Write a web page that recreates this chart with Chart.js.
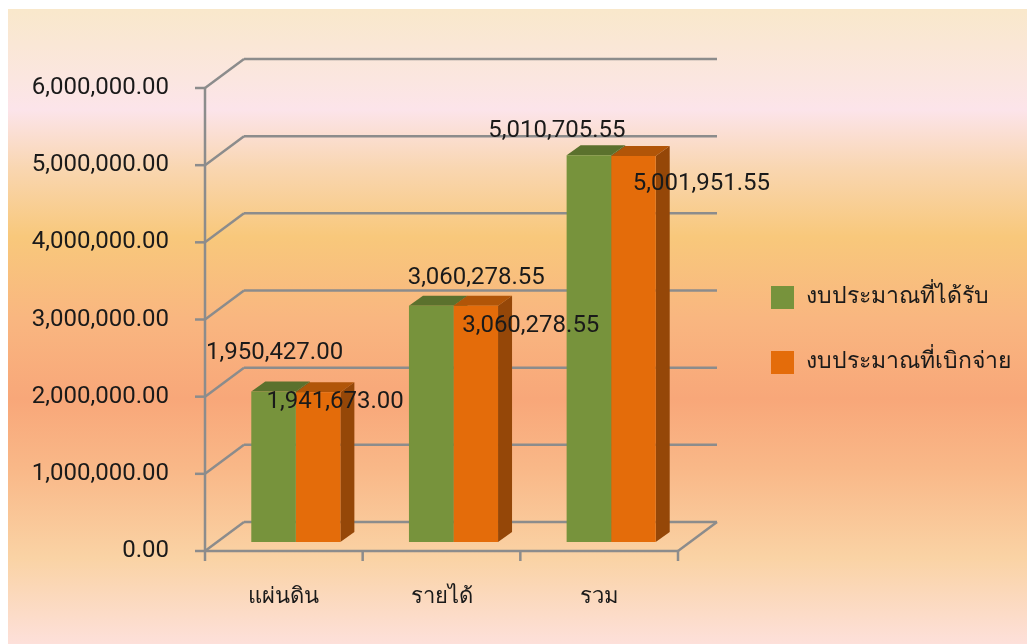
<!DOCTYPE html>
<html>
<head>
<meta charset="utf-8">
<script src="https://cdn.jsdelivr.net/npm/chart.js@4"></script>
<style>
  html, body { margin: 0; padding: 0; background: #fff; }
  #wrap {
    position: absolute; left: 8px; top: 9px; width: 1019px; height: 635px;
    background: linear-gradient(to bottom, #f9e8cb 0px, #fbe6e0 70px, #fce4ea 101px, #f9d6b0 160px,
      #f8c87b 228px, #f9b680 310px, #f8a779 390px, #f9b888 460px, #fad3a5 550px, #fde0da 635px);
  }
</style>
</head>
<body>
<div id="wrap"><canvas id="budgetChart"></canvas></div>
<script>
const categories = ['แผ่นดิน', 'รายได้', 'รวม']
const received = [1950427.0, 3060278.55, 5010705.55]
const disbursed = [1941673.0, 3060278.55, 5001951.55]
const seriesNames = ['งบประมาณที่ได้รับ', 'งบประมาณที่เบิกจ่าย']
const yTicks = [0, 1000000, 2000000, 3000000, 4000000, 5000000, 6000000]

const FONT = "Roboto, 'Noto Sans', 'DejaVu Sans', sans-serif"
const fmt = v => v.toLocaleString('en-US', { minimumFractionDigits: 2, maximumFractionDigits: 2 })

// fake 3D: wall depth, bar depth, shift of the bar plane
const wallDepth = { x: 39, y: -29 }
const barDepth = { x: 14, y: -10 }
const barShift = { x: 12, y: -9 }
// label nudges (Excel placed them by hand)
const labelNudge = [
  [[1, -38], [45, -28], [-32, -24]],
  [[17, 10], [55, 20], [68, 28]],
]
const topColors = ['#5b712d', '#b15508']
const sideColors = ['#55682a', '#954708']

// legend sits at a fixed spot, so size the gap between plot and legend from the text width
const legendPad = 42
const legendFont = 23
const mctx = document.createElement('canvas').getContext('2d')
mctx.font = legendFont + 'px ' + FONT
const legendTextW = Math.max(...seriesNames.map(s => mctx.measureText(s).width))
const legendW = legendTextW + 23 + legendFont / 2 + 10 + legendPad
const legendLeft = 763 - legendPad
const plotRight = 670

const frame3d = {
  id: 'frame3d',
  beforeDatasetsDraw(chart) {
    const { ctx, chartArea: a, scales } = chart
    const y = scales.y
    ctx.save()
    ctx.strokeStyle = '#8c8c8c'
    ctx.lineWidth = 2.5
    ctx.lineCap = 'butt'
    const line = (x1, y1, x2, y2) => {
      ctx.beginPath(); ctx.moveTo(x1, y1); ctx.lineTo(x2, y2); ctx.stroke()
    }
    yTicks.forEach(v => {
      const py = y.getPixelForValue(v)
      line(a.left - 10, py, a.left, py)
      line(a.left, py, a.left + wallDepth.x, py + wallDepth.y)
      line(a.left + wallDepth.x, py + wallDepth.y, a.right + wallDepth.x, py + wallDepth.y)
    })
    line(a.left, a.top, a.left, a.bottom)
    line(a.left, a.bottom, a.right, a.bottom)
    line(a.right, a.bottom, a.right + wallDepth.x, a.bottom + wallDepth.y)
    const catW = (a.right - a.left) / categories.length
    for (let i = 0; i <= categories.length; i++) {
      line(a.left + i * catW, a.bottom, a.left + i * catW, a.bottom + 10)
    }
    ctx.restore()

    // bars get drawn in the shifted plane, depth faces first
    ctx.save()
    ctx.translate(barShift.x, barShift.y)
    chart.data.datasets.forEach((ds, di) => {
      chart.getDatasetMeta(di).data.forEach(bar => {
        const l = bar.x - bar.width / 2
        const r = bar.x + bar.width / 2
        const t = bar.y
        const b = bar.base
        ctx.fillStyle = topColors[di]
        ctx.beginPath()
        ctx.moveTo(l, t); ctx.lineTo(r, t)
        ctx.lineTo(r + barDepth.x, t + barDepth.y); ctx.lineTo(l + barDepth.x, t + barDepth.y)
        ctx.closePath(); ctx.fill()
        ctx.fillStyle = sideColors[di]
        ctx.beginPath()
        ctx.moveTo(r, t); ctx.lineTo(r + barDepth.x, t + barDepth.y)
        ctx.lineTo(r + barDepth.x, b + barDepth.y); ctx.lineTo(r, b)
        ctx.closePath(); ctx.fill()
      })
    })
  },
  afterDatasetsDraw(chart) {
    const { ctx } = chart
    ctx.font = '24px ' + FONT
    ctx.fillStyle = '#1a1a1a'
    ctx.textAlign = 'center'
    ctx.textBaseline = 'middle'
    chart.data.datasets.forEach((ds, di) => {
      chart.getDatasetMeta(di).data.forEach((bar, i) => {
        const [dx, dy] = labelNudge[di][i]
        ctx.fillText(fmt(ds.data[i]), bar.x + dx, bar.y + dy)
      })
    })
    ctx.restore()
  },
}

new Chart(document.getElementById('budgetChart'), {
  type: 'bar',
  data: {
    labels: categories,
    datasets: [
      { label: seriesNames[0], data: received, backgroundColor: '#77933c' },
      { label: seriesNames[1], data: disbursed, backgroundColor: '#e46c0a' },
    ],
  },
  options: {
    responsive: true,
    maintainAspectRatio: false,
    animation: false,
    categoryPercentage: 0.565,
    barPercentage: 1,
    layout: { padding: { top: 79, bottom: 0, left: 0, right: 1019 - legendLeft - legendW } },
    plugins: {
      legend: {
        position: 'right',
        fullSize: false,
        maxWidth: 400,
        title: { display: true, text: ' ', font: { size: 1 }, padding: 10 },
        labels: {
          boxWidth: 23,
          boxHeight: 23,
          padding: legendPad,
          color: '#1a1a1a',
          font: { size: legendFont, family: FONT },
        },
      },
      tooltip: { enabled: false },
    },
    scales: {
      x: {
        grid: { display: false, drawTicks: false },
        border: { display: false },
        ticks: { padding: 33, color: '#1a1a1a', font: { size: 22, family: FONT } },
        afterFit: s => { s.height = 93 },
      },
      y: {
        min: 0,
        max: 6000000,
        grid: { display: false, drawTicks: false },
        border: { display: false },
        afterBuildTicks: s => { s.ticks = yTicks.map(v => ({ value: v })) },
        ticks: { padding: 36, color: '#1a1a1a', font: { size: 24, family: FONT }, callback: v => fmt(v) },
        afterFit: s => { s.width = 197 },
      },
      depth: {
        type: 'linear',
        position: 'right',
        grid: { display: false, drawTicks: false },
        border: { display: false },
        ticks: { display: false },
        afterFit: s => { s.width = legendLeft - plotRight },
      },
    },
  },
  plugins: [frame3d],
})
</script>
</body>
</html>
